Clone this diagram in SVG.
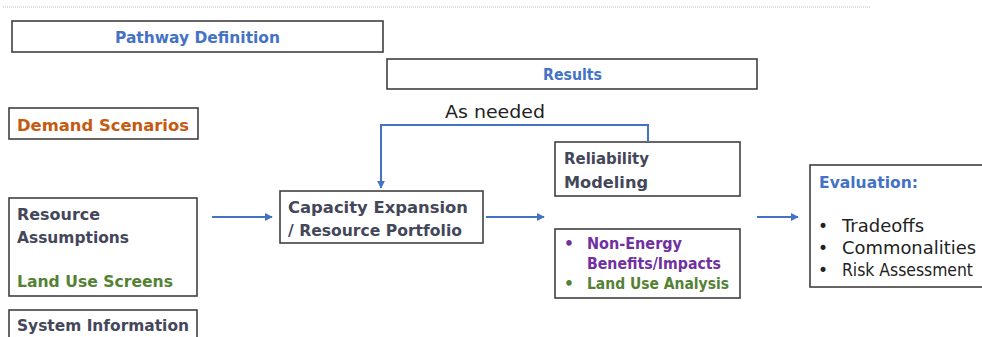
<svg xmlns="http://www.w3.org/2000/svg" width="982" height="337" viewBox="0 0 982 337">
<defs>
<style>
.box{fill:#fff;stroke:#404040;stroke-width:1.6}
.b{font-family:"DejaVu Sans",sans-serif;font-weight:bold;font-size:15.5px}
.n{font-family:"DejaVu Sans",sans-serif;font-size:17px;fill:#222}
.blue{fill:#4472C4}
.dark{fill:#44475A}
.orange{fill:#C55A11}
.green{fill:#548235}
.purple{fill:#7030A0}
.conn{fill:none;stroke:#4472C4;stroke-width:2}
</style>
<marker id="ah" viewBox="0 0 10 10" refX="9" refY="5" markerWidth="4" markerHeight="4" orient="auto" markerUnits="strokeWidth">
<path d="M0,0 L10,5 L0,10 z" fill="#4472C4"/>
</marker>
</defs>
<line x1="3" y1="7" x2="870" y2="7" stroke="#bbb" stroke-width="1" stroke-dasharray="1,1"/>
<g id="pathway">
<rect class="box" x="12" y="21" width="371" height="31"/>
<text class="b blue" x="115" y="43" textLength="165" lengthAdjust="spacingAndGlyphs">Pathway Definition</text>
</g>
<g id="results">
<rect class="box" x="387" y="59" width="370" height="30"/>
<text class="b blue" x="543" y="80" textLength="59" lengthAdjust="spacingAndGlyphs">Results</text>
</g>
<g id="demand">
<rect class="box" x="9" y="108" width="189" height="31"/>
<text class="b orange" x="17" y="131" textLength="172" lengthAdjust="spacingAndGlyphs">Demand Scenarios</text>
</g>
<g id="resource">
<rect class="box" x="9" y="198" width="188" height="98"/>
<text class="b dark" x="17" y="220" textLength="83" lengthAdjust="spacingAndGlyphs">Resource</text>
<text class="b dark" x="17" y="243" textLength="112" lengthAdjust="spacingAndGlyphs">Assumptions</text>
<text class="b green" x="17" y="287" textLength="156" lengthAdjust="spacingAndGlyphs">Land Use Screens</text>
</g>
<g id="system">
<rect class="box" x="9" y="310" width="188" height="40"/>
<text class="b dark" x="17" y="331" textLength="172" lengthAdjust="spacingAndGlyphs">System Information</text>
</g>
<g id="capacity">
<rect class="box" x="280" y="191" width="203" height="52"/>
<text class="b dark" x="288" y="213" textLength="180" lengthAdjust="spacingAndGlyphs">Capacity Expansion</text>
<text class="b dark" x="288" y="236" textLength="174" lengthAdjust="spacingAndGlyphs">/ Resource Portfolio</text>
</g>
<g id="reliability">
<rect class="box" x="555" y="142" width="185" height="54"/>
<text class="b dark" x="564" y="164" textLength="85" lengthAdjust="spacingAndGlyphs">Reliability</text>
<text class="b dark" x="564" y="188" textLength="84" lengthAdjust="spacingAndGlyphs">Modeling</text>
</g>
<g id="nonenergy">
<rect class="box" x="555" y="229" width="185" height="69"/>
<text class="b purple" x="564" y="249">•</text>
<text class="b purple" x="587" y="249" textLength="95" lengthAdjust="spacingAndGlyphs">Non-Energy</text>
<text class="b purple" x="587" y="269" textLength="134" lengthAdjust="spacingAndGlyphs">Benefits/Impacts</text>
<text class="b green" x="564" y="289">•</text>
<text class="b green" x="587" y="289" textLength="142" lengthAdjust="spacingAndGlyphs">Land Use Analysis</text>
</g>
<g id="evaluation">
<rect class="box" x="810" y="165" width="180" height="122"/>
<text class="b blue" x="819" y="188" textLength="99" lengthAdjust="spacingAndGlyphs">Evaluation:</text>
<text class="n" x="818" y="232">•</text>
<text class="n" x="842" y="232" textLength="82" lengthAdjust="spacingAndGlyphs">Tradeoffs</text>
<text class="n" x="818" y="254">•</text>
<text class="n" x="842" y="254" textLength="134" lengthAdjust="spacingAndGlyphs">Commonalities</text>
<text class="n" x="818" y="276">•</text>
<text class="n" x="842" y="276" textLength="131" lengthAdjust="spacingAndGlyphs">Risk Assessment</text>
</g>
<g id="connectors">
<text class="n" x="445" y="118" textLength="100" lengthAdjust="spacingAndGlyphs">As needed</text>
<polyline class="conn" points="648,142 648,125 381,125 381,188" marker-end="url(#ah)"/>
<line class="conn" x1="212" y1="217" x2="272" y2="217" marker-end="url(#ah)"/>
<line class="conn" x1="486" y1="217" x2="544" y2="217" marker-end="url(#ah)"/>
<line class="conn" x1="757" y1="217" x2="798" y2="217" marker-end="url(#ah)"/>
</g>
</svg>
